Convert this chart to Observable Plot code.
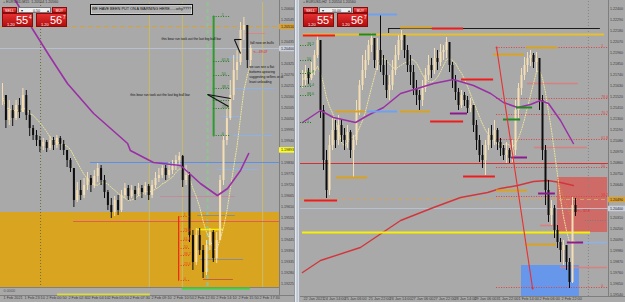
<!DOCTYPE html>
<html><head><meta charset="utf-8">
<script src="https://cdn.jsdelivr.net/npm/d3@7"></script>
<script src="https://cdn.jsdelivr.net/npm/@observablehq/plot@0.6"></script>
<style>
html,body{margin:0;padding:0;background:#a9a9a9;width:625px;height:302px;overflow:hidden;}
#wrap{position:relative;width:625px;height:302px;overflow:hidden;background:#a9a9a9;font-family:"Liberation Sans",Arial,sans-serif;}
.panel{position:absolute;top:0;height:302px;}
#left{left:0;width:295px;}
#right{left:300px;width:325px;}
.ln{position:absolute;background:#7e7e7e;}
#sep{position:absolute;left:294px;top:0;width:6px;height:302px;background:linear-gradient(to right,#6f737a,#e3e7ee 25%,#b9c0cb 55%,#dfe3ea 80%,#7d838c);}
.widget{position:absolute;width:65px;height:20px;color:#fff;z-index:5;}
.wb{position:absolute;top:0;height:6px;background:linear-gradient(#ec5353,#c41616);font-size:3.6px;line-height:6px;text-align:center;border:0.5px solid #8a0a0a;box-sizing:border-box;}
.wf{position:absolute;top:0;height:6px;background:#eef0f2;color:#222;font-size:3.6px;line-height:6px;border:0.5px solid #777;box-sizing:border-box;}
.wf .a{position:absolute;top:0;}
.wp{position:absolute;top:6px;height:14px;width:31px;background:linear-gradient(#e53030,#b30e0e);border:0.5px solid #8a0a0a;box-sizing:border-box;}
.wp .s{position:absolute;left:4px;top:7.5px;font-size:4px;}
.wp .b{position:absolute;left:13px;top:0px;font-size:11px;line-height:13px;}
.wp .u{position:absolute;left:26px;top:0.5px;font-size:4.5px;}
#headline{position:absolute;left:90px;top:4px;width:103px;height:11px;border:1.5px solid #111;box-sizing:border-box;font-size:3.8px;line-height:8px;text-align:center;color:#111;background:#b0b0b0;box-shadow:inset 0 0 0 0.6px #e8e8e8;z-index:5;white-space:nowrap;overflow:hidden;}
.sym{position:absolute;top:0px;font-size:3.6px;color:#333;z-index:4;}
svg{position:absolute;left:0;top:0;}
</style>
</head>
<body>
<div id="wrap">
  <div class="ln" style="left:279px;top:0;width:1px;height:296px"></div>
  <div class="ln" style="left:0;top:287px;width:280px;height:1px;background:#808080"></div>
  <div class="ln" style="left:0;top:295px;width:295px;height:1px"></div>
  <div class="ln" style="left:608px;top:0;width:1px;height:297px"></div>
  <div class="ln" style="left:300px;top:296px;width:325px;height:1px"></div>
  <div class="panel" id="left"></div>
  <div class="panel" id="right"></div>
  <div id="sep"></div>
  <div class="sym" style="left:3px">+ EURUSD,M15 &nbsp;1.20554 1.20560</div>
  <div class="sym" style="left:303px">+ EURUSD,H2 &nbsp;1.20554 1.20560</div>
  <div class="widget" style="left:2px;top:7px">
    <div class="wb" style="left:0;width:15px">SELL</div>
    <div class="wf" style="left:16px;width:33px"><span class="a" style="left:2px">▾</span><span class="a" style="left:14px">0.50</span><span class="a" style="left:28px">▴</span></div>
    <div class="wb" style="left:50px;width:15px">BUY</div>
    <div class="wp" style="left:0"><span class="s">1.20</span><span class="b">55</span><span class="u">4</span></div>
    <div class="wp" style="left:34px"><span class="s">1.20</span><span class="b">56</span><span class="u">7</span></div>
  </div>
  <div class="widget" style="left:303px;top:7px">
    <div class="wb" style="left:0;width:15px">SELL</div>
    <div class="wf" style="left:16px;width:33px"><span class="a" style="left:2px">▾</span><span class="a" style="left:12px">10.00</span><span class="a" style="left:28px">▴</span></div>
    <div class="wb" style="left:50px;width:15px">BUY</div>
    <div class="wp" style="left:0"><span class="s">1.20</span><span class="b">55</span><span class="u">4</span></div>
    <div class="wp" style="left:34px"><span class="s">1.20</span><span class="b">56</span><span class="u">7</span></div>
  </div>
  <div id="headline">WE HAVE BEEN PUT ON A WARNING HERE......why????</div>
</div>
<script>
// ---------------- LEFT PANEL DATA (M15) ----------------
const leftClose = [1.20165,1.20040,1.20090,1.20050,1.20115,1.20080,1.20165,1.20065,1.20000,1.19965,
 1.19940,1.19910,1.19930,1.19900,1.19940,1.19915,1.19950,1.19920,1.19890,1.19840,
 1.19800,1.19640,1.19690,1.19665,1.19715,1.19750,1.19715,1.19760,1.19800,1.19740,
 1.19680,1.19615,1.19580,1.19640,1.19590,1.19665,1.19700,1.19660,1.19690,1.19670,
 1.19700,1.19680,1.19710,1.19665,1.19715,1.19750,1.19765,1.19800,1.19765,1.19790,
 1.19810,1.19840,1.19860,1.19740,1.19765,1.19465,1.19330,1.19465,1.19390,1.19280,
 1.19415,1.19480,1.19350,1.19440,1.19740,1.19940,1.20050,1.20165,1.20290,1.20330,
 1.20490,1.20515,1.20340,1.20400];
const leftHigh = [1.20225,1.20165,1.20140,1.20115,1.20140,1.20150,1.20200,1.20190,1.20090,1.20015,
 1.19990,1.19960,1.19950,1.19940,1.19960,1.19955,1.19965,1.19960,1.19940,1.19890,
 1.19850,1.19800,1.19730,1.19740,1.19750,1.19780,1.19765,1.19790,1.19825,1.19815,
 1.19765,1.19690,1.19650,1.19660,1.19665,1.19690,1.19725,1.19715,1.19715,1.19710,
 1.19725,1.19715,1.19730,1.19720,1.19740,1.19780,1.19800,1.19815,1.19815,1.19830,
 1.19840,1.19865,1.19880,1.19865,1.19815,1.19780,1.19490,1.19500,1.19500,1.19415,
 1.19440,1.19500,1.19490,1.19480,1.19765,1.19965,1.20100,1.20240,1.20365,1.20390,
 1.20530,1.20555,1.20515,1.20415];
const leftLow = [1.20115,1.20000,1.20015,1.20010,1.20040,1.20050,1.20080,1.20040,1.19960,1.19940,
 1.19910,1.19880,1.19890,1.19880,1.19890,1.19890,1.19900,1.19890,1.19865,1.19805,
 1.19780,1.19605,1.19630,1.19640,1.19650,1.19690,1.19680,1.19700,1.19730,1.19715,
 1.19650,1.19590,1.19550,1.19560,1.19565,1.19580,1.19650,1.19640,1.19650,1.19640,
 1.19660,1.19650,1.19665,1.19640,1.19650,1.19700,1.19730,1.19750,1.19740,1.19750,
 1.19770,1.19790,1.19815,1.19705,1.19715,1.19430,1.19290,1.19315,1.19365,1.19250,
 1.19265,1.19390,1.19330,1.19325,1.19440,1.19715,1.19915,1.20040,1.20140,1.20240,
 1.20315,1.20440,1.20300,1.20315];
const leftPriceTicks = [1.20600,1.20545,1.20490,1.20435,1.20380,1.20325,1.20270,1.20215,1.20160,1.20105,1.20050,1.19995,1.19940,1.19885,1.19830,1.19775,1.19720,1.19665,1.19610,1.19555,1.19500,1.19445,1.19390,1.19335,1.19280,1.19225];
const leftTimeTicks = [0,6.2,12.6,19.1,25,30.9,37.1,43.5,50,56.2,62.6,69.1,75.3];
const leftTimeLabels = ["1 Feb 2021","1 Feb 23:10","2 Feb 00:50","2 Feb 02:30","2 Feb 04:10","2 Feb 05:50","2 Feb 07:30","2 Feb 09:10","2 Feb 10:50","2 Feb 12:30","2 Feb 14:10","2 Feb 15:50","2 Feb 17:30"];
const leftOrangeZone = [1.19205, 1.19580];
const leftPurpleMA = [[2.9,1.20665],[9.1,1.20490],[14.1,1.20355],[19.1,1.20225],[26.8,1.20075],[36.8,1.19925],[37.6,1.19890],[44.4,1.19830],[52.4,1.19815],[58.2,1.19725],[63.2,1.19665],[66.2,1.19700],[70,1.19790],[72.4,1.19875]];
const leftOliveV = [43.2, 52.9, 76.5];
const leftGreenDashV = [60.3];
const leftDotV = [11.2];
const leftOrangeDash = [1.20510];
const leftBidLine = [1.20400];
const leftBlueSegs = [[25.9,81.47,1.19830]];
const leftRedSegs = [[20.9,81.47,1.19535]];
const leftMauveSegs = [[46.5,68.5,1.19660]];
const leftLightBlueSegs = [[63.2,75.3,1.19795],[66.5,70,1.20355],[67.9,80.3,1.20200],[64.7,70,1.20060],[67.9,79.4,1.19965]];
const leftPinkSegs = [[71.5,77.4,1.20475]];
const leftYellowSegs = [[57.4,65,1.19495]];
const leftGraySegs = [[58.2,70.9,1.19345],[57.4,68.5,1.19565]];
const leftBrownSegs = [[59.1,67.9,1.19245]];
const leftStripGreen = [[52.9,72.9,1.19200]];
const leftStripYellow = [[16.2,43.5,1.19170]];
const leftRedFibX = [51.8, 55.3];
const leftRedFib = [[1.19560,"1"],[1.19485,"76.4"],[1.19440,"61.8"],[1.19400,"50"],[1.19365,"38.2"],[1.19315,"23.6"],[1.19240,"0"]];
const leftGreenFibX = [62.1, 67];
const leftGreenFib = [[1.20560,"1"],[1.20335,"61.8"],[1.20265,"50"],[1.20200,"38.2"],[1.20140,""],[1.20100,"23.6"],[1.19965,"0"]];
const leftNotes = [[46.8,1.20450,"this bear run took out the last big bull bar"],[37.6,1.20170,"this bear run took out the last big bull bar"],[72.9,1.20430,"fall now on bulls"],[72.6,1.20310,"we can see a flat"],[72.6,1.20285,"bottoms apearing"],[72.6,1.20260,"suggesting sellers or at"],[72.6,1.20235,"least unloading"]];
const leftRedNote = [[73.8,1.20385,"<-- 49.07"]];
const leftPointers = [[68.2,1.20445,70.3,1.20445],[68.2,1.20445,70,1.20375],[60.3,1.20170,67.1,1.20150],[60.3,1.20170,66.5,1.20110]];
const leftAskTag = [1.20510], leftBidTag = [1.20400], leftYellowTag = [1.19893];

// ---------------- RIGHT PANEL DATA (H2) ----------------
const rightClose = [1.2168,1.2176,1.2170,1.2178,1.2193,1.2208,1.2138,1.2088,1.2058,1.2103,
 1.2118,1.2108,1.2123,1.2113,1.2108,1.2116,1.2098,1.2108,1.2138,1.2163,
 1.2178,1.2188,1.2203,1.2210,1.2188,1.2198,1.2183,1.2173,1.2158,1.2163,
 1.2178,1.2193,1.2208,1.2213,1.2198,1.2183,1.2176,1.2160,1.2153,1.2148,
 1.2160,1.2173,1.2183,1.2178,1.2190,1.2186,1.2196,1.2198,1.2206,1.2183,
 1.2168,1.2156,1.2143,1.2153,1.2148,1.2140,1.2143,1.2123,1.2108,1.2093,
 1.2088,1.2103,1.2113,1.2108,1.2118,1.2106,1.2100,1.2093,1.2098,1.2090,
 1.2098,1.2138,1.2160,1.2173,1.2183,1.2190,1.2193,1.2186,1.2190,1.2148,
 1.2098,1.2058,1.2033,1.2040,1.2018,1.2006,1.1998,1.2003,1.1986,1.1966,
 1.2043,1.2036];
const rightHigh = [1.2178,1.2183,1.2180,1.2186,1.2198,1.2213,1.2208,1.2143,1.2098,1.2113,
 1.2130,1.2128,1.2133,1.2128,1.2120,1.2123,1.2118,1.2113,1.2148,1.2168,
 1.2193,1.2198,1.2208,1.2215,1.2210,1.2210,1.2234,1.2193,1.2188,1.2173,
 1.2188,1.2203,1.2213,1.2218,1.2213,1.2203,1.2193,1.2183,1.2168,1.2158,
 1.2168,1.2180,1.2193,1.2190,1.2200,1.2198,1.2204,1.2203,1.2211,1.2206,
 1.2186,1.2173,1.2160,1.2158,1.2156,1.2152,1.2150,1.2143,1.2128,1.2113,
 1.2103,1.2108,1.2120,1.2123,1.2128,1.2120,1.2110,1.2103,1.2106,1.2100,
 1.2108,1.2148,1.2165,1.2180,1.2191,1.2196,1.2198,1.2195,1.2196,1.2190,
 1.2153,1.2103,1.2068,1.2048,1.2043,1.2023,1.2010,1.2008,1.2003,1.1990,
 1.2051,1.2050];
const rightLow = [1.2160,1.2163,1.2164,1.2168,1.2173,1.2190,1.2130,1.2078,1.2050,1.2053,
 1.2098,1.2100,1.2103,1.2106,1.2098,1.2100,1.2090,1.2071,1.2103,1.2133,
 1.2158,1.2170,1.2183,1.2196,1.2180,1.2178,1.2176,1.2163,1.2150,1.2148,
 1.2158,1.2173,1.2188,1.2198,1.2190,1.2176,1.2163,1.2153,1.2143,1.2138,
 1.2142,1.2156,1.2168,1.2170,1.2174,1.2178,1.2182,1.2188,1.2190,1.2176,
 1.2160,1.2148,1.2138,1.2140,1.2142,1.2135,1.2136,1.2116,1.2098,1.2086,
 1.2080,1.2073,1.2098,1.2100,1.2103,1.2098,1.2092,1.2088,1.2085,1.2085,
 1.2086,1.2093,1.2130,1.2153,1.2168,1.2176,1.2182,1.2180,1.2176,1.2138,
 1.2088,1.2043,1.2026,1.2023,1.2010,1.2000,1.1986,1.1983,1.1978,1.1960,
 1.1965,1.2032];
const rightPriceTicks = [1.2240,1.2229,1.2218,1.2207,1.2196,1.2185,1.2174,1.2163,1.2152,1.2141,1.2130,1.2119,1.2108,1.2097,1.2086,1.2075,1.2064,1.2053,1.2042,1.2031,1.2020,1.2009,1.1998,1.1987,1.1976,1.1965,1.1954];
const rightTimeTicks = [0,6.7,13.7,21.7,28.7,36,43.3,50.3,57,64.3,71.7,78.7,86];
const rightTimeLabels = ["22 Jan 2021","24 Jan 14:00","25 Jan 06:00","25 Jan 22:00","26 Jan 14:00","27 Jan 06:00","27 Jan 22:00","28 Jan 14:00","29 Jan 06:00","31 Jan 22:00","1 Feb 14:00","2 Feb 06:00","2 Feb 22:00"];
const rightRedZone = [[85,101.7,1.2071,1.2016]];
const rightBlueZone = [[73,92.3,1.1983,1.1952]];
const rightGoldLine = [[0.3,100.7,1.2214]];
const rightBlackLine = [[28.7,99.3,1.2220]];
const rightBlackTick = [[28.7,1.2220,1.2215]];
const rightYellowLine = [[0,96,1.2016]];
const rightRedFull = [1.2085];
const rightOrangeDash = [1.2049];
const rightBidLine = [1.2040];
const rightFibX = [64.7, 101.7];
const rightFib = [[1.2201,"1"],[1.2150,"78.6"],[1.2134,"70.7"],[1.2109,"61.8"],[1.2081,"50"],[1.2052,"38.2"],[1.1961,"0"]];
const rightFibDiag = [[64.7,1.2201,76.7,1.1960]];
const rightRedMA = [[0,1.1976],[6,1.1988],[19.3,1.2001],[32.7,1.2028],[43.7,1.2041],[52.7,1.2051],[61.7,1.2056],[66,1.2060],[71.7,1.2063],[77,1.2067],[81.7,1.2068],[86,1.2066],[90.3,1.2063]];
const rightPurpleMA = [[0,1.2126],[6,1.2138],[10.3,1.2131],[17.7,1.2126],[21.7,1.2133],[27,1.2141],[32.7,1.2155],[38.3,1.2160],[43.7,1.2165],[50.3,1.2169],[57,1.2163],[62.7,1.2155],[67,1.2146],[71.7,1.2141],[76,1.2144],[79.3,1.2148],[82,1.2145],[86,1.2128],[90.3,1.2105]];
const rightRedSegs = [[0.3,11,1.2213],[43.3,53.7,1.2220],[42.7,53.7,1.2127],[53,63.7,1.2169],[53.7,64.3,1.2072],[0.7,11.7,1.2048]];
const rightGoldSegs = [[11,21,1.2137],[32.7,42.7,1.2137],[32.7,43.3,1.2221],[63.7,74,1.2194],[74.7,85,1.2201],[11.3,21.7,1.2071],[64.7,75,1.2058],[74.3,84.7,1.2004]];
const rightGreenSegs = [[19,24.7,1.2214],[67,72.7,1.2129],[71.3,76.7,1.2141]];
const rightBlueSegs = [[22,31.7,1.2234],[21.7,31.7,1.2137]];
const rightPurpleSegs = [[49.3,55,1.2135],[69.7,75,1.2091],[78.7,84.3,1.2055],[88.3,93.7,1.2006]];
const rightSalmonSegs = [[75,92,1.2165],[77.3,95,1.2101],[79.3,85.3,1.2023],[86,101.7,1.1981]];
const rightLightBlueSegs = [[93.7,101.7,1.2006]];
const rightGrayDotSegs = [[94.3,101.7,1.2028]];
const rightDotV = [95.3];
const rightOrangeDiag = [[85,1.2068,89.3,1.2033]];
const rightRedNote = [[91.7,1.2038,"<-- 37.8"]];
const rightGreenFibX = [-0.667, 3.3];
const rightGreenFib = [[1.2203,"38.2"],[1.2188,"50"],[1.2175,"61.8"],[1.2162,"76.4"],[1.2153,"88.6"],[1.2126,"1"]];
const rightAskTag = [1.2049], rightBidTag = [1.2040];

// ---------------- helpers ----------------
const BULL = "#f5deb3", BEAR = "#0d0d0d";
const FONT = "Liberation Sans, Arial, sans-serif";
const fmt5 = d3.format(".5f");
const candles = (close, high, low) => close.map((c, i) => ({i, o: i ? close[i - 1] : c, c, h: high[i], l: low[i]}));
const seg = a => a.map(([x1, x2, p]) => ({x1, x2, p}));
const pts = a => a.map(([x, p]) => ({x, p}));
const lnk = a => a.map(([x1, p1, x2, p2]) => ({x1, p1, x2, p2}));
const colr = d => d.c >= d.o ? BULL : BEAR;
// hide axis ticks that sit under a price tag (the tag covers them, as in the terminal)
const freeTicks = (ticks, tags, gap) => ticks.filter(t => !tags.some(g => Math.abs(g - t) < gap));
const candleMarks = (data, bw) => [
  Plot.ruleX(data, {x: "i", y1: "l", y2: "h", stroke: colr, strokeWidth: 1}),
  Plot.ruleX(data, {x: "i", y1: "o", y2: "c", stroke: colr, strokeWidth: bw})
];
const segMark = (a, stroke, w, dash) => Plot.ruleY(seg(a), {x1: "x1", x2: "x2", y: "p", stroke, strokeWidth: w, strokeDasharray: dash});
const fibMarks = (xr, levels, color, lx) => [
  Plot.ruleY(levels, {x1: xr[0], x2: xr[1], y: d => d[0], stroke: color, strokeDasharray: "1,1.5", strokeWidth: 1}),
  Plot.text(levels, {x: lx, y: d => d[0], text: d => d[1], fill: color, fontSize: 3.6, textAnchor: "start", fontFamily: FONT, dy: -1.5})
];
const tagMarks = (vals, x0, w, bg, fg) => [
  Plot.ruleY(vals, {x1: x0, x2: x0 + w, stroke: bg, strokeWidth: 5.5}),
  Plot.text(vals, {y: d => d, text: d => fmt5(d), frameAnchor: "right", dx: 1.5, textAnchor: "start", fontSize: 3.6, fill: fg, fontFamily: FONT})
];
const axisText = (ticks) => Plot.text(ticks, {y: d => d, text: d => fmt5(d), frameAnchor: "right", dx: 1.5, textAnchor: "start", fontSize: 3.6, fill: "#3d3d3d", fontFamily: FONT});

// ---------------- LEFT PLOT ----------------
const LX = [-0.588, 81.47];
const leftData = candles(leftClose, leftHigh, leftLow);
const leftPlot = Plot.plot({
  width: 295, height: 302, marginLeft: 0, marginRight: 16, marginTop: 2, marginBottom: 15,
  x: {domain: LX, axis: null},
  y: {domain: [1.19205, 1.20630], axis: null},
  color: {type: "identity"},
  style: {background: "transparent", fontFamily: FONT},
  marks: [
    Plot.rect([leftOrangeZone], {y1: d => d[0], y2: d => d[1], fill: "#d9a521"}),
    Plot.ruleX(leftDotV, {stroke: "#6d6d3a", strokeDasharray: "1,2"}),
    Plot.ruleX(leftOliveV, {stroke: "#c9bb6a", strokeWidth: 1}),
    Plot.ruleX(leftGreenDashV, {stroke: "#92c292", strokeWidth: 2, strokeDasharray: "4,3"}),
    Plot.ruleY(leftOrangeDash, {stroke: "#d9a032", strokeDasharray: "5,3"}),
    Plot.ruleY(leftBidLine, {stroke: "#b7c0d0"}),
    segMark(leftBlueSegs, "#5d8fe3", 1.2),
    segMark(leftRedSegs, "#e35a5a", 1.2),
    segMark(leftMauveSegs, "#c48a9a", 1.2),
    segMark(leftLightBlueSegs, "#8fb2e6", 1),
    segMark(leftPinkSegs, "#d98686", 1),
    segMark(leftGraySegs, "#8c8c8c", 1),
    segMark(leftBrownSegs, "#c0603e", 1),
    segMark(leftYellowSegs, "#f4f000", 1.6),
    segMark(leftStripGreen, "#3fd23f", 2.2),
    segMark(leftStripYellow, "#dada4c", 2.2),
    Plot.lineY(leftData, Plot.windowY({k: 8, anchor: "end"}, {x: "i", y: "c", stroke: "#efe59a", strokeWidth: 1, strokeDasharray: "1,1.5"})),
    ...candleMarks(leftData, 2),
    Plot.line(pts(leftPurpleMA), {x: "x", y: "p", stroke: "#9a2fa6", strokeWidth: 1.6}),
    // red fibo
    Plot.ruleX([leftRedFibX[0]], {y1: leftRedFib[leftRedFib.length - 1][0], y2: leftRedFib[0][0], stroke: "#ee2a1a", strokeWidth: 1.3}),
    ...fibMarks(leftRedFibX, leftRedFib, "#e8401e", leftRedFibX[0] + 1.5),
    // green fibo
    Plot.ruleX([leftGreenFibX[0]], {y1: leftGreenFib[leftGreenFib.length - 1][0], y2: leftGreenFib[0][0], stroke: "#2f9a2f", strokeWidth: 2}),
    ...fibMarks(leftGreenFibX, leftGreenFib, "#1f7d1f", leftGreenFibX[0] + 2.4),
    Plot.dot([leftGreenFib[0], leftGreenFib[3], leftGreenFib[leftGreenFib.length - 1]], {x: leftGreenFibX[0], y: d => d[0], r: 1, fill: "#2f9a2f"}),
    // annotations
    Plot.link(lnk(leftPointers), {x1: "x1", y1: "p1", x2: "x2", y2: "p2", stroke: "#111", strokeWidth: 1.1}),
    Plot.text(leftNotes, {x: d => d[0], y: d => d[1], text: d => d[2], fontSize: 3.3, fill: "#111", textAnchor: "start", fontFamily: FONT}),
    Plot.text(leftRedNote, {x: d => d[0], y: d => d[1], text: d => d[2], fontSize: 3.5, fill: "#e02020", textAnchor: "start", fontFamily: FONT}),
    // price axis
    axisText(freeTicks(leftPriceTicks, [...leftAskTag, ...leftBidTag, ...leftYellowTag], 0.00025)),
    ...tagMarks(leftAskTag, LX[1], 4.5, "#d9a032", "#222"),
    ...tagMarks(leftBidTag, LX[1], 4.5, "#c9d0dc", "#222"),
    ...tagMarks(leftYellowTag, LX[1], 4.5, "#fbfb2a", "#222"),
    // time axis
    Plot.text(leftTimeTicks, {x: d => d, text: (d, i) => leftTimeLabels[i], frameAnchor: "bottom", dy: 11, dx: 1, textAnchor: "start", fontSize: 3.8, fill: "#3d3d3d", fontFamily: FONT}),
    Plot.text(["0.0000"], {frameAnchor: "bottom-left", dx: 3, dy: 4, text: d => d, textAnchor: "start", fontSize: 3.8, fill: "#555", fontFamily: FONT})
  ]
});
document.getElementById("left").appendChild(leftPlot);

// ---------------- RIGHT PLOT ----------------
const RX = [-0.667, 102];
const rightData = candles(rightClose, rightHigh, rightLow);
const rightPlot = Plot.plot({
  width: 325, height: 302, marginLeft: 0, marginRight: 17, marginTop: 1, marginBottom: 6,
  x: {domain: RX, axis: null},
  y: {domain: [1.1952, 1.2247], axis: null},
  color: {type: "identity"},
  style: {background: "transparent", fontFamily: FONT},
  marks: [
    Plot.rect(rightRedZone, {x1: d => d[0], x2: d => d[1], y1: d => d[2], y2: d => d[3], fill: "#d6605c", fillOpacity: 0.85}),
    Plot.rect(rightBlueZone, {x1: d => d[0], x2: d => d[1], y1: d => d[2], y2: d => d[3], fill: "#6797ea"}),
    Plot.ruleX(rightDotV, {stroke: "#858585", strokeDasharray: "1,2"}),
    Plot.ruleY(rightRedFull, {stroke: "#d83030", strokeWidth: 1}),
    Plot.ruleY(rightOrangeDash, {stroke: "#d2a463", strokeDasharray: "4,3"}),
    Plot.ruleY(rightBidLine, {stroke: "#b7c0d0"}),
    ...fibMarks(rightFibX, rightFib, "#e04040", RX[1] - 2.4),
    Plot.line(pts(rightRedMA), {x: "x", y: "p", stroke: "#d2363c", strokeWidth: 1.4}),
    segMark(rightGoldLine, "#e8c02c", 2),
    segMark(rightBlackLine, "#1a1a1a", 1),
    Plot.ruleX(rightBlackTick, {x: d => d[0], y1: d => d[1], y2: d => d[2], stroke: "#1a1a1a"}),
    segMark(rightYellowLine, "#f8f000", 2),
    segMark(rightSalmonSegs, "#d98080", 1.6),
    segMark(rightLightBlueSegs, "#8fb2e6", 1.6),
    segMark(rightGrayDotSegs, "#7a7a7a", 1, "1,1.5"),
    Plot.lineY(rightData, Plot.windowY({k: 8, anchor: "end"}, {x: "i", y: "c", stroke: "#efe59a", strokeWidth: 1, strokeDasharray: "1,1.5"})),
    ...candleMarks(rightData, 2),
    Plot.line(pts(rightPurpleMA), {x: "x", y: "p", stroke: "#9a2fa6", strokeWidth: 1.5}),
    segMark(rightRedSegs, "#f01c1c", 2),
    segMark(rightGoldSegs, "#daa21e", 2),
    segMark(rightGreenSegs, "#1f8a1f", 2),
    segMark(rightBlueSegs, "#6fa1f0", 2),
    segMark(rightPurpleSegs, "#8d1a8d", 2),
    Plot.link(lnk(rightFibDiag), {x1: "x1", y1: "p1", x2: "x2", y2: "p2", stroke: "#ea3030", strokeWidth: 1.1}),
    Plot.dot(lnk(rightFibDiag), {x: "x1", y: "p1", r: 1, fill: "#ea3030"}),
    Plot.dot(lnk(rightFibDiag), {x: "x2", y: "p2", r: 1, fill: "#ea3030"}),
    Plot.link(lnk(rightOrangeDiag), {x1: "x1", y1: "p1", x2: "x2", y2: "p2", stroke: "#e09030", strokeWidth: 1, strokeDasharray: "1,1.5"}),
    Plot.text(rightRedNote, {x: d => d[0], y: d => d[1], text: d => d[2], fontSize: 3.5, fill: "#e02020", textAnchor: "start", fontFamily: FONT}),
    ...fibMarks(rightGreenFibX, rightGreenFib, "#1f7d1f", 1.5),
    // price axis
    axisText(freeTicks(rightPriceTicks, [...rightAskTag, ...rightBidTag], 0.0006)),
    ...tagMarks(rightAskTag, RX[1], 5.7, "#d9a032", "#222"),
    ...tagMarks(rightBidTag, RX[1], 5.7, "#c9d0dc", "#222"),
    // time axis
    Plot.text(rightTimeTicks, {x: d => d, text: (d, i) => rightTimeLabels[i], frameAnchor: "bottom", dy: 3.5, dx: 1, textAnchor: "start", fontSize: 3.8, fill: "#3d3d3d", fontFamily: FONT})
  ]
});
document.getElementById("right").appendChild(rightPlot);
</script>
</body></html>
